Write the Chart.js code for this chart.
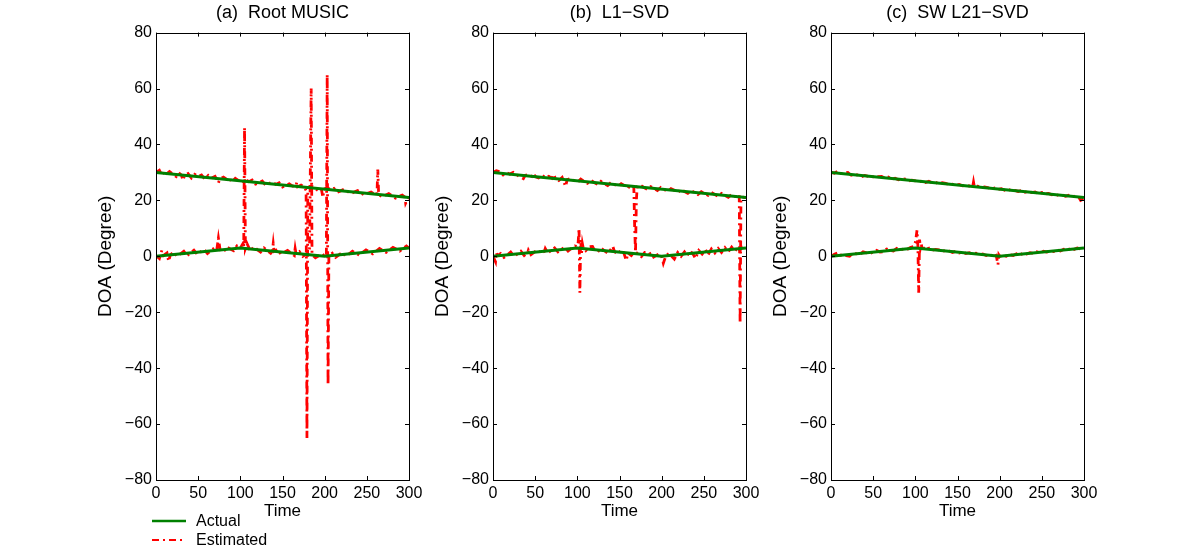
<!DOCTYPE html>
<html>
<head>
<meta charset="utf-8">
<script src="https://cdn.jsdelivr.net/npm/chart.js@4"></script>
<style>
  html, body { margin: 0; padding: 0; background: #fff; }
  #wrap { position: relative; width: 1200px; height: 550px; background: #fff; overflow: hidden; }
  #wrap canvas { position: absolute; top: 0; }
  #legend { position: absolute; left: 152px; top: 511px; font: 16px 'Liberation Sans', Arial, sans-serif; color: #000; }
  #legend div { height: 19px; line-height: 19px; display: flex; align-items: center; }
  #legend svg { margin-right: 10px; }
</style>
</head>
<body>
<div id="wrap">
  <canvas id="chart-a" width="343" height="550" style="left:86px"></canvas>
  <canvas id="chart-b" width="343" height="550" style="left:423px"></canvas>
  <canvas id="chart-c" width="343" height="550" style="left:761px"></canvas>
  <div id="legend">
    <div><svg width="34" height="6"><line x1="0" y1="3" x2="34" y2="3" stroke="rgb(0,128,0)" stroke-width="2.5"/></svg>Actual</div>
    <div><svg width="34" height="6"><line x1="0" y1="3" x2="34" y2="3" stroke="#ff0000" stroke-width="2" stroke-dasharray="7,4,2,4"/></svg>Estimated</div>
  </div>
</div>
<script>
// tick labels
const xTicks = [0, 50, 100, 150, 200, 250, 300];
const yTicks = [-80, -60, -40, -20, 0, 20, 40, 60, 80];

// actual DOA tracks (time, degree)
const actualUpper = [[0, 30], [300, 21]];
const actualLower = [[0, 0], [100, 3], [200, 0], [300, 3]];

// (a) Root MUSIC estimates
const musicUpper = [[0,30.0],[4,30.8],[7,29.0],[10,30.4],[13,29.6],[16,30.3],[20,29.4],[24,28.5],[27,29.9],[30,29.1],[32,27.2],[34,29.0],[38,29.6],[42,28.0],[46,29.3],[50,28.5],[54,29.1],[58,27.6],[62,28.9],[66,28.0],[70,28.6],[74,26.3],[76,27.7],[80,28.3],[84,27.5],[86,28.2],[90,26.6],[94,27.9],[98,27.1],[102,26.2],[106,27.5],[110,26.7],[114,27.3],[118,25.8],[122,26.3],[126,26.9],[130,25.4],[134,26.0],[138,26.6],[142,25.7],[146,26.3],[150,24.8],[154,25.4],[158,25.9],[162,25.1],[166,25.0],[167,26.6],[168,24.9],[172,25.5],[176,24.7],[178,23.5],[179,-65],[180,24.6],[184,25.2],[188,24.4],[192,23.5],[196,24.1],[198,21.0],[199,24.0],[203,24.6],[207,23.8],[211,24.3],[215,22.9],[219,23.4],[223,24.0],[227,23.2],[231,22.4],[235,23.0],[239,23.5],[243,22.7],[247,21.9],[251,22.5],[255,23.0],[259,22.2],[262,22.1],[263,31],[264,22.1],[268,21.3],[272,21.8],[276,22.4],[280,21.6],[284,20.8],[288,21.4],[292,21.9],[295,21.2],[296,19.0],[298,20.3],[300,21.0]];
const musicLower = [[0,0.2],[4,-0.8],[7,2.2],[9,0.3],[13,1.2],[15,-1.8],[17,0.5],[21,1.5],[25,0.0],[29,0.9],[33,1.8],[37,0.3],[41,1.2],[45,2.2],[49,0.7],[53,1.6],[57,2.5],[61,1.0],[65,2.0],[69,2.9],[72,2.2],[74,6.5],[76,2.3],[80,1.6],[84,3.3],[88,2.6],[92,2.0],[96,3.7],[100,3.0],[103,4.5],[104,2.9],[105,46],[106,2.8],[108,4.5],[112,1.8],[116,3.4],[120,2.4],[124,1.5],[128,3.0],[132,2.0],[136,1.1],[138,1.9],[139,4.5],[140,1.8],[144,2.5],[148,0.8],[152,1.4],[156,2.1],[160,1.2],[164,0.3],[165,2.8],[166,1.0],[170,1.7],[174,0.0],[178,0.7],[182,1.3],[184,60],[185,0.5],[189,-0.5],[193,0.2],[197,0.9],[200,0.0],[202,0.1],[203,65],[204,-46],[205,0.2],[209,1.1],[213,-0.4],[217,0.5],[221,1.4],[225,0.0],[229,0.9],[233,1.8],[237,1.1],[241,0.4],[245,1.4],[249,2.3],[253,1.6],[257,0.9],[261,1.8],[265,2.8],[269,2.1],[273,1.4],[277,2.3],[281,3.2],[285,2.6],[289,1.9],[293,2.8],[297,3.7],[300,3.0]];

// (b) L1-SVD estimates
const svdUpper = [[0,30.0],[4,30.6],[8,30.3],[12,29.1],[16,29.9],[20,29.4],[24,30.0],[28,29.2],[32,28.4],[36,27.8],[38,28.9],[42,29.3],[46,28.6],[48,29.6],[50,28.5],[54,28.0],[58,29.0],[62,28.1],[66,28.6],[70,27.9],[72,29.3],[74,27.8],[78,27.1],[82,28.2],[86,25.0],[88,27.4],[92,27.8],[96,27.1],[100,26.4],[104,27.6],[108,26.8],[112,26.1],[116,27.2],[120,26.4],[124,25.7],[128,26.8],[132,26.0],[136,25.3],[140,26.4],[144,25.7],[148,25.0],[152,26.0],[156,25.3],[160,24.3],[162,25.2],[166,25.0],[167,24.6],[168,10],[169,1.5],[170,20],[171,24.9],[175,25.4],[179,24.6],[183,23.9],[187,24.9],[191,24.3],[195,23.5],[199,24.6],[203,23.9],[207,23.2],[211,24.2],[215,23.6],[219,22.8],[223,23.9],[227,23.2],[231,22.5],[235,23.5],[239,22.8],[243,22.1],[247,23.1],[251,22.5],[255,21.8],[259,22.8],[263,22.1],[267,21.4],[271,22.5],[275,21.8],[279,21.1],[283,22.1],[287,21.4],[290,21.3],[292,22.0],[293,-24],[294,20.0],[296,21.2],[300,21.0]];
const svdLower = [[0,0.0],[3,-2.0],[4,1.5],[5,0.2],[9,1.0],[13,-0.4],[17,0.5],[21,1.5],[25,0.0],[29,0.9],[33,1.8],[37,0.3],[41,1.2],[42,2.2],[45,0.6],[49,1.5],[53,2.4],[57,1.0],[61,1.8],[62,2.8],[65,1.2],[69,2.1],[73,3.0],[77,1.6],[81,2.4],[85,3.3],[89,1.9],[93,2.8],[97,3.7],[100,3.5],[101,5],[102,10],[103,-13],[104,6],[105,1],[106,4.5],[107,3.0],[110,2.0],[114,3.4],[118,3.5],[120,2.4],[124,1.5],[128,3.0],[132,2.0],[136,1.1],[140,2.6],[142,3.6],[144,1.7],[148,0.8],[152,2.2],[155,1.3],[158,-1.5],[160,1.2],[164,0.3],[168,1.8],[172,0.8],[176,-0.1],[180,1.4],[185,1.5],[189,-0.5],[193,0.2],[197,0.9],[200,0.0],[202,-2.5],[205,0.2],[209,1.1],[213,-0.4],[215,-1.0],[219,1.4],[223,0.0],[227,1.6],[230,0.2],[234,1.9],[238,0.4],[240,-0.8],[244,2.1],[248,0.8],[252,2.4],[255,0.5],[259,2.6],[263,1.2],[267,2.8],[271,1.4],[275,3.1],[279,1.6],[283,3.3],[287,1.9],[290,3.2],[293,2.0],[295,3.6],[300,3.0]];

// (c) SW L21-SVD estimates
const swUpper = [[0,30.0],[4,29.7],[8,30.5],[12,29.6],[16,29.8],[20,30.0],[24,29.0],[28,29.4],[32,29.0],[36,28.4],[40,28.9],[44,28.6],[48,28.7],[52,28.1],[56,28.5],[60,28.6],[64,27.9],[68,28.3],[72,27.5],[76,27.9],[80,27.4],[84,27.7],[88,27.6],[92,26.9],[96,27.2],[100,27.0],[104,26.6],[108,27.0],[112,26.4],[116,26.8],[120,26.3],[124,26.5],[128,25.9],[132,26.3],[136,26.1],[140,25.6],[144,25.8],[148,25.4],[152,25.7],[156,25.2],[160,25.3],[164,25.2],[168,24.9],[169,26.6],[170,24.9],[174,25.1],[178,24.4],[182,24.8],[186,24.6],[190,24.0],[194,24.4],[198,23.9],[202,24.2],[206,23.6],[210,24.0],[214,23.5],[218,23.6],[222,23.2],[226,23.5],[230,22.9],[234,23.3],[238,22.8],[242,23.0],[246,22.4],[250,22.8],[254,22.3],[258,22.5],[262,22.0],[266,22.3],[270,21.7],[274,22.0],[278,21.5],[282,21.8],[286,21.3],[290,21.6],[294,21.0],[296,20.0],[298,20.3],[300,20.8]];
const swLower = [[0,0.0],[4,0.7],[8,1.2],[10,0.3],[14,0.6],[18,0.2],[22,0.0],[26,1.2],[30,0.9],[34,0.6],[38,1.6],[42,1.2],[46,1.0],[50,1.5],[54,2.1],[58,1.5],[62,1.6],[66,2.6],[70,2.1],[74,1.9],[78,2.8],[82,2.3],[86,2.6],[90,2.4],[94,3.1],[98,3.5],[100,5],[101,7],[102,9.3],[103,4],[104,-13],[105,6],[106,3],[107,4.5],[108,2.8],[112,2.9],[115,3.5],[116,2.6],[120,2.2],[124,2.5],[128,2.3],[132,1.8],[136,2.1],[140,1.9],[144,1.4],[148,1.8],[152,1.2],[156,1.6],[160,1.0],[164,1.3],[168,0.8],[172,1.1],[176,0.5],[180,0.8],[184,0.3],[188,0.7],[192,0.2],[195,1.0],[196,0.2],[198,-3],[199,0.5],[200,0.0],[204,0.4],[208,0.0],[212,0.6],[216,0.3],[220,0.9],[224,0.5],[228,1.1],[232,0.8],[236,1.3],[240,1.0],[244,1.6],[248,1.2],[252,1.8],[256,1.5],[260,2.0],[264,1.7],[268,2.3],[272,1.9],[276,2.5],[280,2.2],[284,2.8],[288,2.4],[292,3.0],[296,2.6],[300,3.0]];

const FONT = "'Liberation Sans', Arial, Helvetica, sans-serif";
const GREEN = 'rgb(0,128,0)';
const RED = '#ff0000';

const toXY = arr => arr.map(p => ({ x: p[0], y: p[1] }));
const fmt = v => String(v).replace('-', '\u2212');

// matlab-like box with inward ticks
const boxTicks = {
  id: 'boxTicks',
  afterDatasetsDraw(chart) {
    const { ctx, chartArea: a, scales: { x, y } } = chart;
    ctx.save();
    ctx.strokeStyle = '#000';
    ctx.lineWidth = 1;
    ctx.beginPath();
    x.ticks.forEach(t => {
      const px = Math.round(x.getPixelForValue(t.value)) + 0.5;
      ctx.moveTo(px, a.bottom); ctx.lineTo(px, a.bottom - 4);
      ctx.moveTo(px, a.top); ctx.lineTo(px, a.top + 4);
    });
    y.ticks.forEach(t => {
      const py = Math.round(y.getPixelForValue(t.value)) + 0.5;
      ctx.moveTo(a.left, py); ctx.lineTo(a.left + 4, py);
      ctx.moveTo(a.right, py); ctx.lineTo(a.right - 4, py);
    });
    ctx.stroke();
    ctx.strokeRect(Math.round(a.left) + 0.5, Math.round(a.top) + 0.5, Math.round(a.width), Math.round(a.height));
    ctx.restore();
  }
};

function makePanel(id, title, upper, lower) {
  const line = (data, color, width, dash) => ({
    data: toXY(data),
    borderColor: color,
    borderWidth: width,
    borderDash: dash,
    pointRadius: 0,
    tension: 0,
    fill: false
  });
  new Chart(document.getElementById(id), {
    type: 'line',
    data: {
      datasets: [
        line(actualUpper, GREEN, 3, []),
        line(actualLower, GREEN, 3, []),
        line(upper, RED, 2.8, [7, 4, 2, 4]),
        line(lower, RED, 2.8, [7, 4, 2, 4])
      ]
    },
    options: {
      responsive: false,
      animation: false,
      layout: { padding: { left: 0, right: 20, top: 0, bottom: 0 } },
      plugins: {
        legend: { display: false },
        tooltip: { enabled: false },
        title: {
          display: true,
          text: title,
          fullSize: false,
          color: '#000',
          font: { family: FONT, size: 18, weight: 'normal' },
          padding: { top: 2, bottom: 9 }
        }
      },
      scales: {
        x: {
          type: 'linear',
          min: 0, max: 300,
          afterBuildTicks: s => { s.ticks = xTicks.map(v => ({ value: v })); },
          afterFit: s => { s.height = 70; },
          grid: { display: false, drawTicks: false },
          border: { display: false },
          ticks: { color: '#000', padding: 4, maxRotation: 0, font: { family: FONT, size: 16 }, callback: fmt },
          title: { display: true, text: 'Time', color: '#000', font: { family: FONT, size: 17 }, padding: { top: 0, bottom: 28 } }
        },
        y: {
          type: 'linear',
          min: -80, max: 80,
          afterBuildTicks: s => { s.ticks = yTicks.map(v => ({ value: v })); },
          afterFit: s => { s.width = 70; },
          grid: { display: false, drawTicks: false },
          border: { display: false },
          ticks: { color: '#000', padding: 4, font: { family: FONT, size: 16 }, callback: fmt },
          title: { display: true, text: 'DOA (Degree)', color: '#000', font: { family: FONT, size: 19 }, padding: { top: 8, bottom: 0 } }
        }
      }
    },
    plugins: [boxTicks]
  });
}

makePanel('chart-a', '(a)  Root MUSIC', musicUpper, musicLower);
makePanel('chart-b', '(b)  L1\u2212SVD', svdUpper, svdLower);
makePanel('chart-c', '(c)  SW L21\u2212SVD', swUpper, swLower);
</script>
</body>
</html>
